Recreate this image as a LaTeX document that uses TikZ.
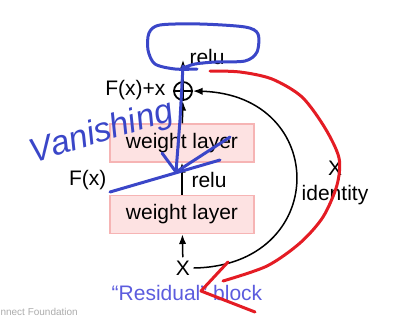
\documentclass[tikz,border=0pt]{standalone}
\usepackage{fontspec}
\setmainfont{Liberation Sans}
\usepackage{tikz}
\usetikzlibrary{arrows.meta,positioning}

\definecolor{boxfill}{RGB}{253,226,226}
\definecolor{boxline}{RGB}{246,180,180}
\definecolor{penblue}{RGB}{58,70,200}
\definecolor{penred}{RGB}{228,28,36}
\definecolor{capblue}{RGB}{92,92,222}

\begin{document}
\begin{tikzpicture}[x=1pt, y=-1pt, font=\fontsize{21}{24}\selectfont, >=Latex,
    layerbox/.style={draw=boxline, fill=boxfill, line width=1.5pt, minimum width=144pt, minimum height=38pt, inner sep=0pt},
    flow/.style={->, line width=1.5pt},
    pen/.style={line width=3pt, line cap=round, line join=round}]
\useasboundingbox (0,0) rectangle (404,317);
    % Residual block.
    \node[layerbox] (wtop) at (182,143) {weight layer};
    \node[layerbox] (wbot) at (182,214.5) {weight layer};
    \node (xin) at (183,268) {X};
    \node[circle, draw, line width=1.8pt, minimum size=18pt, inner sep=0pt] (sum) at (183,91) {};
    \draw[line width=1.8pt] (sum.north) -- (sum.south) (sum.west) -- (sum.east);
    \coordinate (out) at (183,60);
    \draw[flow] (xin) -- (wbot);
    \draw[flow] (wbot) -- (wtop);
    \draw[flow] (wtop) -- (sum);
    \draw[flow] (sum) -- (out);
    \draw[flow] (xin.east) .. controls (330,266) and (330,95) .. (sum.east);
    % Labels.
    \node[anchor=west] (relutop) at (186,57) {relu};
    \node[anchor=west] (relumid) at (188,180) {relu};
    \node[anchor=east] (fx) at (110,180) {F(x)};
    \node[anchor=east] (fxx) at (169,90) {F(x)+x};
    \node (xid) at (335,168) {X};
    \node (ident) at (335,195) {identity};
    \node[text=capblue] (caption) at (187,293) {“Residual” block};
    \node[anchor=west, text=gray!65, font=\fontsize{10}{12}\selectfont] (credit) at (-3,312) {nnect Foundation};
    % Pen marks.
    \draw[pen, penblue] plot[smooth] coordinates {(197,69) (175,69) (155,64) (148,50) (149,33) (160,25) (200,24) (245,27) (258,34) (257,52) (245,61) (215,62) (195,64) (183,68)};
    \draw[pen, penblue] (183,66) -- (180,120) -- (176,172);
    \draw[pen, penblue] (162,153) -- (176,172) -- (230,137);
    \draw[pen, penblue] (110,192) -- (220,160);
    \node[text=penblue, rotate=17, font=\fontsize{34}{36}\selectfont\itshape] (vanish) at (102,133) {Vanishing};
    \draw[pen, penred] plot[smooth] coordinates {(210,71) (240,72) (272,79) (302,97) (325,128) (339,158) (337,185) (323,217) (300,243) (267,266) (223,281)};
    \draw[pen, penred] (228,262) -- (201,291) -- (255,312);
\end{tikzpicture}
\end{document}
